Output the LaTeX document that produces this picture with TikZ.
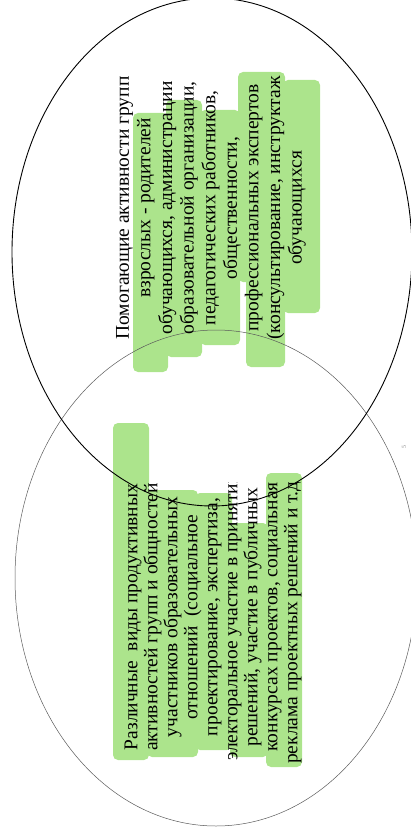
\documentclass[tikz,border=0pt]{standalone}
\usepackage{fontspec}
\setmainfont{Liberation Serif}
\usetikzlibrary{shapes.geometric}

\definecolor{marker}{RGB}{172,228,140}
\definecolor{softline}{RGB}{90,90,90}

\tikzset{
  blob/.style={ellipse, inner sep=0pt, outer sep=0pt},
  hilite/.style={fill=marker, rounded corners=5pt},
  vtext/.style={rotate=90, align=center, inner sep=0pt, font=\fontsize{19.5}{21.6}\selectfont}
}

\begin{document}
\begin{tikzpicture}[x=1pt, y=-1pt]

    \useasboundingbox (0,0) rectangle (411,834);

    % Marker strokes behind the upper text
    \fill[hilite] (133,113) rectangle (168,372);
    \fill[hilite] (166,100) rectangle (202,357);
    \fill[hilite] (200,110) rectangle (240,345);
    \fill[hilite] (238,72) rectangle (285,282);
    \fill[hilite] (246,270) rectangle (285,367);
    \fill[hilite] (283,80) rectangle (320,313);

    % Marker strokes behind the lower text
    \fill[hilite] (113,423) rectangle (149,760);
    \fill[hilite] (147,490) rectangle (198,757);
    \fill[hilite] (195,493) rectangle (232,750);
    \fill[hilite] (230,523) rectangle (268,757);
    \fill[hilite] (266,473) rectangle (302,767);

    % Draw the two overlapping ellipses
    \node[blob, draw=softline, line width=0.5pt, minimum width=402pt, minimum height=496pt] (lower) at (216,578) {};
    \node[blob, draw=black, line width=0.9pt, minimum width=400pt, minimum height=508pt] (upper) at (212,252) {};

    % Text of the upper ellipse
    \node[vtext] (helptxt) at (211,208) {Помогающие активности групп\\
        взрослых - родителей\\
        обучающихся, администрации\\
        образовательной организации,\\
        педагогических работников,\\
        общественности,\\
        профессиональных экспертов\\
        (консультирование, инструктаж\\
        обучающихся};

    % Text of the lower ellipse (cut at its end)
    \begin{scope}
        \clip (0,482) rectangle (411,834);
        \node[vtext, font=\fontsize{19.5}{20}\selectfont] (kindtxt) at (213,617) {Различные~ виды продуктивных\\
            активностей групп и общностей\\
            участников образовательных\\
            отношений~ (социальное\\
            проектирование, экспертиза,\\
            электоральное участие в принятии\\
            решений, участие в публичных\\
            конкурсах проектов, социальная\\
            реклама проектных решений и т.д.)};
    \end{scope}

    % Page number of the scan
    \node[rotate=90, text=gray, font=\fontsize{6}{6}\selectfont] (pgnum) at (404,447) {5};

\end{tikzpicture}
\end{document}
